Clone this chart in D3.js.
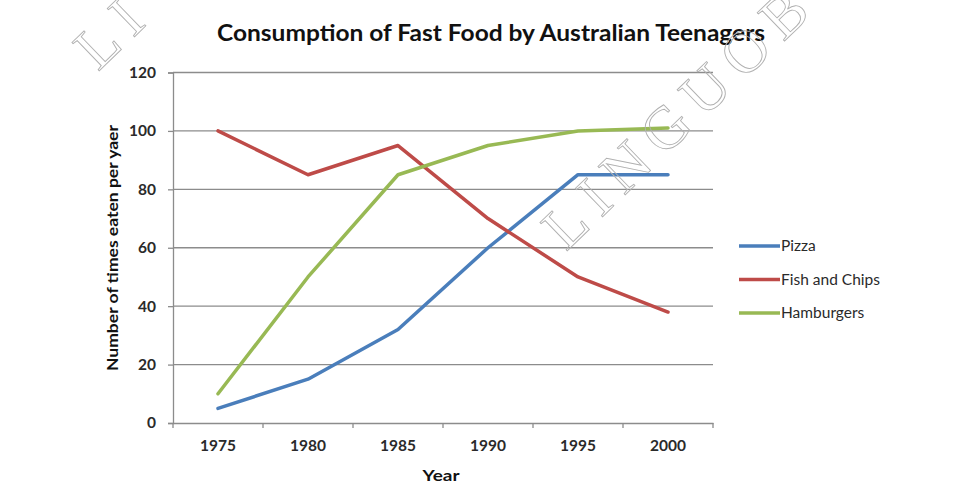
<!DOCTYPE html>
<html><head><meta charset="utf-8">
<script src="https://cdn.jsdelivr.net/npm/d3@7"></script>
<style>body{margin:0;background:#fff}svg{display:block}</style>
</head><body>
<svg id="c" width="967" height="501"></svg>
<script>
const years = ["1975","1980","1985","1990","1995","2000"];
const pizza = [5, 15, 32, 60, 85, 85];
const fishAndChips = [100, 85, 95, 70, 50, 38];
const hamburgers = [10, 50, 85, 95, 100, 101];
const yTicks = [0, 20, 40, 60, 80, 100, 120];
const seriesNames = ["Pizza", "Fish and Chips", "Hamburgers"];
const seriesColors = ["#4A7EBB", "#BE4B48", "#98B954"];
const seriesData = [pizza, fishAndChips, hamburgers];

(function () {
const svg = d3.select("#c");
const pLeft = 173, pRight = 713, pTop = 72.5, pBottom = 423;
const x = d3.scaleBand().domain(years).range([pLeft, pRight]);
const y = d3.scaleLinear().domain([0, 120]).range([pBottom, pTop]);
const font = "Lato, 'Open Sans', sans-serif";
const axisCol = "#8c8c8c";

// gridlines
svg.append("g").selectAll("line").data(yTicks.filter(d => d > 0)).join("line")
  .attr("x1", pLeft).attr("x2", pRight)
  .attr("y1", d => y(d)).attr("y2", d => y(d))
  .attr("stroke", axisCol).attr("stroke-width", 1.3);

// y axis
const yAxis = svg.append("g").attr("transform", `translate(${pLeft},0)`)
  .call(d3.axisLeft(y).tickValues(yTicks).tickSize(5).tickPadding(12));
yAxis.select(".domain").attr("stroke", axisCol).attr("stroke-width", 1.3);
yAxis.selectAll(".tick line").attr("stroke", axisCol).attr("stroke-width", 1.3);
yAxis.selectAll("text").attr("font-family", font).attr("font-weight", "bold")
  .attr("font-size", 15.5).attr("fill", "#2a2a2a");

// x axis
const xAxis = svg.append("g").attr("transform", `translate(0,${pBottom})`)
  .call(d3.axisBottom(x).tickSize(0).tickPadding(17));
xAxis.select(".domain").attr("stroke", axisCol).attr("stroke-width", 1.3);
xAxis.selectAll("text").attr("font-family", font).attr("font-weight", "bold")
  .attr("font-size", 15.5).attr("fill", "#2a2a2a");
const bounds = years.map(d => x(d)).concat([pRight]);
svg.append("g").selectAll("line").data(bounds).join("line")
  .attr("x1", d => d).attr("x2", d => d)
  .attr("y1", pBottom).attr("y2", pBottom + 5)
  .attr("stroke", axisCol).attr("stroke-width", 1.3);

// lines
const line = d3.line().x((d, i) => x(years[i]) + x.bandwidth() / 2).y(d => y(d));
svg.append("g").selectAll("path").data(seriesData).join("path")
  .attr("d", d => line(d))
  .attr("fill", "none")
  .attr("stroke", (d, i) => seriesColors[i])
  .attr("stroke-width", 3.5)
  .attr("stroke-linejoin", "round")
  .attr("stroke-linecap", "round");

// legend
const lg = svg.append("g").selectAll("g").data(seriesNames).join("g")
  .attr("transform", (d, i) => `translate(739,${246 + i * 33.5})`);
lg.append("line").attr("x1", 0).attr("x2", 41).attr("y1", 0).attr("y2", 0)
  .attr("stroke", (d, i) => seriesColors[i]).attr("stroke-width", 3.5);
lg.append("text").attr("x", 42).attr("y", 0).attr("dy", "0.35em")
  .attr("font-family", font).attr("font-size", 15.5).attr("fill", "#2a2a2a").text(d => d);

// title
svg.append("text").attr("x", 491).attr("y", 41).attr("text-anchor", "middle")
  .attr("font-family", font).attr("font-weight", "bold").attr("font-size", 23)
  .attr("textLength", 548).attr("lengthAdjust", "spacingAndGlyphs")
  .attr("fill", "#111").text("Consumption of Fast Food by Australian Teenagers");

// axis titles
svg.append("text").attr("x", 441).attr("y", 481).attr("text-anchor", "middle")
  .attr("font-family", font).attr("font-weight", "bold").attr("font-size", 16)
  .attr("textLength", 37).attr("lengthAdjust", "spacingAndGlyphs")
  .attr("fill", "#111").text("Year");
svg.append("text").attr("transform", "translate(118,248) rotate(-90)")
  .attr("text-anchor", "middle")
  .attr("font-family", font).attr("font-weight", "bold").attr("font-size", 15)
  .attr("textLength", 246).attr("lengthAdjust", "spacingAndGlyphs")
  .attr("fill", "#111").text("Number of times eaten per yaer");

// watermark
const wm = svg.append("g").attr("fill", "none").attr("stroke", "#b0b0b0").attr("stroke-width", 0.9)
  .attr("font-family", "'Liberation Serif', 'DejaVu Serif', serif").attr("font-size", 60)
  .attr("letter-spacing", 12);
wm.append("text").attr("transform", "translate(566,252) rotate(-44)").text("LINGUOB");
wm.append("text").attr("transform", "translate(98,72) rotate(-44)").text("LI");
})();
</script>
</body></html>
